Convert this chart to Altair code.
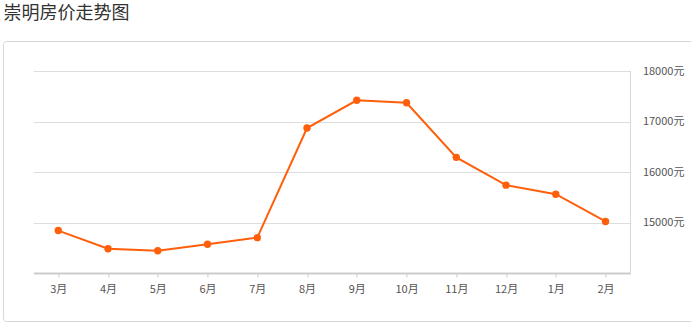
import altair as alt
import pandas as pd

months = ["3月", "4月", "5月", "6月", "7月", "8月", "9月", "10月", "11月", "12月", "1月", "2月"]
prices = [14840, 14480, 14440, 14570, 14700, 16870, 17420, 17370, 16290, 15740, 15560, 15020]
y_ticks = [15000, 16000, 17000, 18000]
title_text = "崇明房价走势图"

df = pd.DataFrame({"month": months, "price": prices})
one = pd.DataFrame({"t": [title_text]})
FONT = "Noto Sans CJK SC"
ORANGE = "#FF5F0A"

W, H = 597, 202
PL, PT = 33.4, 71
PR, PB = 691 - PL - W, 326 - PT - H

base = alt.Chart(df)
single = alt.Chart(one)

frame = single.mark_rect(
    fill=None, stroke="#d6d6d6", strokeWidth=1, cornerRadius=3, clip=False
).encode(
    x=alt.value(-30), x2=alt.value(680), y=alt.value(-29.5), y2=alt.value(250.5)
)

title = single.mark_text(
    align="left", baseline="middle",
    font=FONT, fontSize=18, fontWeight="normal", color="#333333", clip=False
).encode(text="t:N", x=alt.value(-30), y=alt.value(-57))

x_enc = alt.X(
    "month:N", sort=months, title=None,
    scale=alt.Scale(type="point", padding=0.5),
    axis=alt.Axis(
        labelAngle=0, labelFont=FONT, labelFontSize=11, labelColor="#555555",
        domainColor="#cccccc", domainWidth=2, tickColor="#cccccc", tickSize=4,
        labelPadding=6, grid=False,
    ),
)
y_enc = alt.Y(
    "price:Q", title=None,
    scale=alt.Scale(domain=[14000, 18000], nice=False, zero=False),
    axis=alt.Axis(
        orient="right", values=y_ticks, labelExpr="datum.value + '元'",
        labelFont=FONT, labelFontSize=11, labelColor="#555555",
        domain=False, ticks=False, labelPadding=12,
        grid=True, gridColor="#dddddd", gridWidth=1,
    ),
)

right_edge = single.mark_rule(color="#d6d6d6", strokeWidth=1).encode(
    x=alt.value(W), y=alt.value(0), y2=alt.value(H)
)

line = base.mark_line(color=ORANGE, strokeWidth=2).encode(x=x_enc, y=y_enc)
points = base.mark_circle(color=ORANGE, size=55, opacity=1).encode(x=x_enc, y=y_enc)

chart = alt.layer(frame, title, right_edge, line, points).properties(
    width=W, height=H,
    padding={"left": PL, "top": PT, "right": PR, "bottom": PB},
    autosize=alt.AutoSizeParams(type="none"),
    background="white",
).configure_view(stroke=None)

chart.save("out.html", embed_options={"renderer": "svg", "actions": False})
